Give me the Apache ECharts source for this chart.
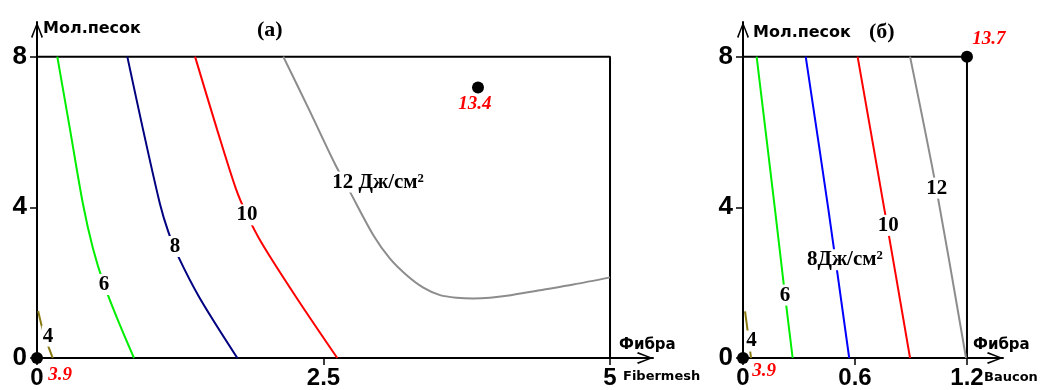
<!DOCTYPE html>
<html>
<head>
<meta charset="utf-8">
<script src="https://cdn.jsdelivr.net/npm/echarts@6/dist/echarts.min.js"></script>
<style>
  html, body { margin: 0; padding: 0; background: #fff; }
  #chart { width: 1046px; height: 390px; }
</style>
</head>
<body>
<div id="chart"></div>
<script>
// ---- Axis ticks -------------------------------------------------------
const sandTicks = [0, 4, 8];              // ground sand content
const fibermeshTicks = [0, 2.5, 5];       // Fibermesh fibre content
const bauconTicks = [0, 0.6, 1.2];        // Baucon fibre content

// ---- Panel (a): iso-energy contours, Fibermesh fibre [x, sand] -------
const fibermesh4  = [[0.01, 1.25], [0.05, 0.75], [0.09, 0.38], [0.137, 0]];
const fibermesh6  = [[0.177, 8], [0.288, 6.07], [0.401, 4.09], [0.489, 2.90], [0.585, 1.95], [0.724, 0.87], [0.846, 0]];
const fibermesh8  = [[0.788, 8], [0.925, 6.07], [1.073, 4.09], [1.146, 3.35], [1.233, 2.69], [1.422, 1.58], [1.748, 0]];
const fibermesh10 = [[1.379, 8], [1.571, 6.07], [1.736, 4.49], [1.832, 3.80], [1.963, 3.04], [2.269, 1.58], [2.620, 0]];
const fibermesh12 = [[2.149, 8], [2.373, 6.6], [2.600, 5.15], [2.731, 4.41], [2.935, 3.26], [3.080, 2.64], [3.226, 2.20],
                     [3.371, 1.87], [3.517, 1.67], [3.663, 1.60], [3.807, 1.58], [3.953, 1.60], [4.099, 1.65],
                     [4.389, 1.80], [4.680, 1.95], [5.0, 2.14]];
const fibermeshLabels = [[0.096, 0.58, '4'], [0.585, 1.95, '6'], [1.204, 2.96, '8'], [1.832, 3.80, '10'], [2.976, 4.67, '12 Дж/см²']];
const fibermeshFrame = [[0, 8], [5, 8], [5, 0]];
const fibermeshOptimum = [3.848, 7.18];
const fibermeshOptimumEnergy = 13.4;

// ---- Panel (б): iso-energy contours, Baucon fibre [x, sand] ----------
const baucon4  = [[0.011, 1.24], [0.028, 0.6], [0.043, 0]];
const baucon6  = [[0.073, 8], [0.171, 3.96], [0.225, 1.67], [0.266, 0]];
const baucon8  = [[0.336, 8], [0.457, 3.96], [0.569, 0]];
const baucon10 = [[0.614, 8], [0.757, 3.96], [0.895, 0]];
const baucon12 = [[0.895, 8], [1.036, 4.49], [1.195, 0]];
const bauconLabels = [[0.046, 0.45, '4'], [0.225, 1.67, '6'], [0.546, 2.61, '8Дж/см²'], [0.778, 3.52, '10'], [1.038, 4.51, '12']];
const bauconFrame = [[0, 8], [1.2, 8], [1.2, 0]];
const bauconOptimum = [1.2, 8];
const bauconOptimumEnergy = 13.7;

// energy at the plain mix (no fibre, no sand)
const originEnergy = 3.9;

// ---- Styling --------------------------------------------------------
const SANS = '"DejaVu Sans", Verdana, sans-serif';
const TICK_FONT = '"Liberation Sans", Arial, sans-serif';
const SERIF = '"Liberation Serif", "Times New Roman", serif';
const chevron = 'path://M6,0 L12,15 L10.6,16 L6,3.6 L1.4,16 L0,15 Z';

function valueAxis(gridIndex, max, ticks, isY) {
  return {
    type: 'value', gridIndex, min: 0, max,
    splitLine: { show: false },
    axisLine: {
      show: true, onZero: false,
      symbol: ['none', chevron], symbolSize: [12, 16], symbolOffset: [0, -8],
      lineStyle: { color: '#000', width: 2 }
    },
    axisTick: { show: true, customValues: ticks, length: 7, lineStyle: { color: '#000', width: 1.5 } },
    axisLabel: {
      show: true, customValues: ticks, margin: isY ? 10 : 8,
      fontFamily: TICK_FONT, fontWeight: 'bold', fontSize: isY ? 26 : 24, color: '#000'
    }
  };
}

function contour(data, color, gi) {
  return {
    type: 'line', xAxisIndex: gi, yAxisIndex: gi, data,
    symbol: 'none', smooth: 0.3, clip: false, silent: true,
    lineStyle: { color, width: 2 }, z: 3
  };
}

function frame(data, gi) {
  return {
    type: 'line', xAxisIndex: gi, yAxisIndex: gi, data,
    symbol: 'none', clip: false, silent: true,
    lineStyle: { color: '#000', width: 2 }, z: 2
  };
}

function contourLabels(items, gi) {
  return {
    type: 'scatter', xAxisIndex: gi, yAxisIndex: gi, symbolSize: 0, clip: false, silent: true, z: 6,
    itemStyle: { opacity: 1 },
    data: items.map(d => ({ value: [d[0], d[1]], name: d[2] })),
    label: {
      show: true, position: 'inside', formatter: '{b}',
      fontFamily: SERIF, fontWeight: 'bold', fontSize: 21, color: '#000', opacity: 1,
      backgroundColor: '#fff', padding: [0, 1]
    }
  };
}

function dots(items, gi) {
  return {
    type: 'scatter', xAxisIndex: gi, yAxisIndex: gi, symbol: 'circle', symbolSize: 12,
    clip: false, silent: true, z: 8, itemStyle: { color: '#000', opacity: 1 },
    data: items.map(d => ({
      value: d.at,
      label: {
        show: true, formatter: String(d.energy), position: 'inside', offset: d.offset, opacity: 1,
        fontFamily: SERIF, fontStyle: 'italic', fontWeight: 'bold', fontSize: 19, color: '#ff0000'
      }
    }))
  };
}

const chart = echarts.init(document.getElementById('chart'), null, { renderer: 'canvas' });

chart.setOption({
  animation: false,
  backgroundColor: '#fff',
  grid: [
    { left: 37, top: 22, width: 616, height: 338 },
    { left: 743, top: 22, width: 260, height: 338 }
  ],
  xAxis: [valueAxis(0, 5.375, fibermeshTicks, false), valueAxis(1, 1.393, bauconTicks, false)],
  yAxis: [valueAxis(0, 8.92, sandTicks, true), valueAxis(1, 8.92, sandTicks, true)],
  series: [
    frame(fibermeshFrame, 0),
    contour(fibermesh4, '#8a7a12', 0),
    contour(fibermesh6, '#00ee00', 0),
    contour(fibermesh8, '#000080', 0),
    contour(fibermesh10, '#ff0000', 0),
    contour(fibermesh12, '#8c8c8c', 0),
    contourLabels(fibermeshLabels, 0),
    dots([
      { at: [0, 0], energy: originEnergy, offset: [23, 17] },
      { at: fibermeshOptimum, energy: fibermeshOptimumEnergy, offset: [-3, 17] }
    ], 0),

    frame(bauconFrame, 1),
    contour(baucon4, '#8a7a12', 1),
    contour(baucon6, '#00ee00', 1),
    contour(baucon8, '#0000ff', 1),
    contour(baucon10, '#ff0000', 1),
    contour(baucon12, '#8c8c8c', 1),
    contourLabels(bauconLabels, 1),
    dots([
      { at: [0, 0], energy: originEnergy, offset: [21, 13] },
      { at: bauconOptimum, energy: bauconOptimumEnergy, offset: [22, -18] }
    ], 1)
  ],
  graphic: [
    { type: 'text', left: 43, top: 21, style: { text: 'Мол.песок', font: 'bold 16px ' + SANS, fill: '#000' } },
    { type: 'text', left: 753, top: 25, style: { text: 'Мол.песок', font: 'bold 16px ' + SANS, fill: '#000' } },
    { type: 'text', left: 257, top: 19, style: { text: '(а)', font: 'bold 22px ' + SERIF, fill: '#000' } },
    { type: 'text', left: 869, top: 21, style: { text: '(б)', font: 'bold 22px ' + SERIF, fill: '#000' } },
    { type: 'text', left: 619, top: 338, style: { text: 'Фибра', font: 'bold 15px ' + SANS, fill: '#000' } },
    { type: 'text', left: 973, top: 338, style: { text: 'Фибра', font: 'bold 15px ' + SANS, fill: '#000' } },
    { type: 'text', left: 623, top: 370, style: { text: 'Fibermesh', font: 'bold 13px ' + SANS, fill: '#000' } },
    { type: 'text', left: 984, top: 371, style: { text: 'Baucon', font: 'bold 13px ' + SANS, fill: '#000' } }
  ]
});
</script>
</body>
</html>
